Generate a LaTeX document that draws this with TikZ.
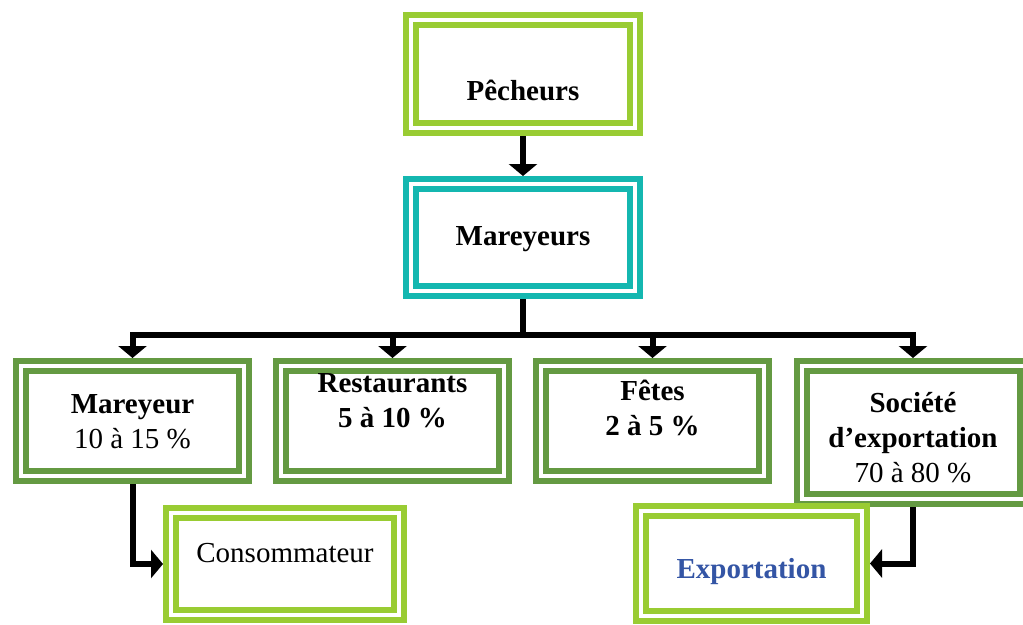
\documentclass[tikz,border=0pt]{standalone}
\usepackage{fontspec}
\setmainfont{Liberation Serif}
\usetikzlibrary{arrows.meta,positioning}
\definecolor{lgreen}{RGB}{153,204,51}
\definecolor{dgreen}{RGB}{100,154,66}
\definecolor{tealbox}{RGB}{20,183,176}
\definecolor{expblue}{RGB}{52,85,165}
\newcommand{\twolines}[2]{\begin{tabular}[t]{@{}c@{}}#1\\#2\end{tabular}}
\newcommand{\threelines}[3]{\begin{tabular}[t]{@{}c@{}}#1\\#2\\#3\end{tabular}}

\begin{document}
\begin{tikzpicture}[x=1pt,y=-1pt,node distance=260pt,on grid,
  >={Triangle[width=28pt,length=12pt]},
  box/.style={rectangle,double=white,line width=6pt,double distance=4pt,fill=white,
    outer sep=8pt,inner ysep=0pt,font=\fontsize{29}{35}\selectfont},
  lbox/.style={box,draw=lgreen},
  dbox/.style={box,draw=dgreen,minimum width=223pt},
  tbox/.style={box,draw=tealbox},
  link/.style={->,line width=6pt,black}]
   \useasboundingbox (0,0) rectangle (1023,624);
   % haut
   \node[lbox,minimum width=224pt,text height=80pt,text depth=28pt] (pech) at (523,74) {\textbf{Pêcheurs}};
   \node[tbox,minimum width=224pt,text height=61pt,text depth=46pt] (marx) [below=163.5pt of pech] {\textbf{Mareyeurs}};
   % rangee du milieu
   \node[dbox,text height=47pt,text depth=63pt] (m1) at (132.5,421) {\twolines{\textbf{Mareyeur}}{10 à 15 \%}};
   \node[dbox,text height=26pt,text depth=84pt] (resto) [right=of m1] {\twolines{\textbf{Restaurants}}{\textbf{5 à 10 \%}}};
   \node[dbox,text height=34pt,text depth=76pt] (fete) [right=of resto] {\twolines{\textbf{Fêtes}}{\textbf{2 à 5 \%}}};
   \node[dbox,text height=46pt,text depth=87pt] (soc) at (913,432.5) {\threelines{\textbf{Société}}{\textbf{d’exportation}}{70 à 80 \%}};
   % bas
   \node[lbox,minimum width=228pt,text height=49pt,text depth=53pt] (cons) at (285,564) {Consommateur};
   \node[lbox,minimum width=221pt,text height=67pt,text depth=38pt] (expo) at (751.5,563.5) {\textcolor{expblue}{\textbf{Exportation}}};
   \coordinate (bus) at (523,335);
   \draw[link] (pech) -- (marx);
   \draw[line width=6pt] (marx) -- (bus);
   \foreach \n in {m1,resto,fete,soc}
     \draw[link] (bus) -| (\n);
   \draw[link] (m1) |- (cons);
   \draw[link] (soc) |- (expo);
\end{tikzpicture}
\end{document}
